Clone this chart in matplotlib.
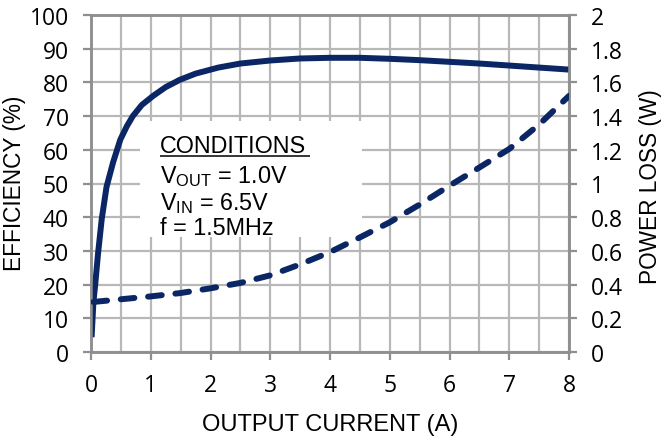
import matplotlib
matplotlib.use("Agg")
import matplotlib.pyplot as plt
import numpy as np

# Data
eff_current = [0.01, 0.04, 0.07, 0.12, 0.18, 0.26, 0.37, 0.49, 0.60, 0.70, 0.85, 1.04, 1.25,
               1.49, 1.75, 2.13, 2.5, 3.0, 3.5, 4.0, 4.5, 5.0, 5.5, 6.0, 6.5, 7.0, 7.5, 8.0]
efficiency = [4.4, 14.7, 20.0, 29.6, 39.5, 49.0, 56.3, 63.0, 67.0, 70.0, 73.3, 76.0, 78.6,
              80.8, 82.6, 84.4, 85.6, 86.5, 87.1, 87.3, 87.3, 87.0, 86.6, 86.1, 85.6, 85.0, 84.4, 83.8]

loss_current = [0.04, 0.5, 1.0, 1.5, 2.0, 2.5, 3.0, 3.5, 4.0, 4.5, 5.0, 5.5, 6.0, 6.5, 7.0, 7.5, 8.0]
power_loss = [0.297, 0.313, 0.33, 0.35, 0.378, 0.41, 0.455, 0.52, 0.593, 0.68, 0.77, 0.875,
              0.987, 1.095, 1.205, 1.35, 1.52]

x_ticks = [0, 1, 2, 3, 4, 5, 6, 7, 8]
eff_ticks = [0, 10, 20, 30, 40, 50, 60, 70, 80, 90, 100]
loss_ticks = [0, 0.2, 0.4, 0.6, 0.8, 1.0, 1.2, 1.4, 1.6, 1.8, 2.0]
loss_tick_labels = ["0", "0.2", "0.4", "0.6", "0.8", "1", "1.2", "1.4", "1.6", "1.8", "2"]

navy = "#0b2665"
grid_c = "#b8b8b8"
spine_c = "#8f8f8f"
tick_font = "Open Sans"
text_font = "Liberation Sans"

W, H = 661, 439
fig = plt.figure(figsize=(W / 100, H / 100), dpi=100)
ax = fig.add_axes([91 / W, 1 - 353 / H, (569 - 91) / W, (353 - 16) / H])
ax2 = ax.twinx()

ax.set_xlim(0, 8)
ax.set_ylim(0, 100)
ax2.set_ylim(0, 2)

ax.set_xticks(x_ticks)
ax.set_xticks(np.arange(0, 8.01, 0.5), minor=True)
ax.set_yticks(eff_ticks)
ax2.set_yticks(loss_ticks)
ax2.set_yticklabels(loss_tick_labels)

ax.grid(True, which="both", axis="x", color=grid_c, linewidth=1.6)
ax.grid(True, which="major", axis="y", color=grid_c, linewidth=1.6)
ax.set_axisbelow(True)

for a in (ax, ax2):
    for s in a.spines.values():
        s.set_color(spine_c)
        s.set_linewidth(1.8)
    a.tick_params(which="major", length=6, width=1.6, color=spine_c, labelsize=16.5)
    for lab in a.get_xticklabels() + a.get_yticklabels():
        lab.set_fontfamily(tick_font)
ax.tick_params(axis="x", which="minor", length=0)
ax.tick_params(axis="x", pad=9)
ax.tick_params(axis="y", pad=10)
ax2.tick_params(axis="y", pad=10)

# Conditions box (white background covering grid)
box = plt.Rectangle((0.82, 34.1), 3.715, 34.4, facecolor="white", edgecolor="none", zorder=1.5)
ax.add_patch(box)
fs = 16.8
ax.text(1.155, 59.3, "CONDITIONS", fontsize=fs, family=text_font, va="baseline", ha="left", zorder=3)
ax.plot([1.155, 3.665], [58.1, 58.1], color="black", lw=1.1, zorder=3, solid_capstyle="butt")
ax.text(1.155, 50.4, r"V$_{\mathregular{OUT}}$ = 1.0V", fontsize=fs, family=text_font, va="baseline", ha="left", zorder=3)
ax.text(1.155, 42.4, r"V$_{\mathregular{IN}}$ = 6.5V", fontsize=fs, family=text_font, va="baseline", ha="left", zorder=3)
ax.text(1.155, 35.0, "f = 1.5MHz", fontsize=fs, family=text_font, va="baseline", ha="left", zorder=3)

ax.plot(eff_current, efficiency, color=navy, lw=4.3, zorder=4, solid_capstyle="butt", solid_joinstyle="round")
ax2.plot(loss_current, power_loss, color=navy, lw=4.3, ls=(0, (2.3, 2.3)), zorder=4, dash_capstyle="round")

fig.text(330 / W, 1 - 431 / H, "OUTPUT CURRENT (A)", fontsize=17, family=text_font, ha="center", va="baseline")
fig.text(15 / W, 1 - 183 / H, "EFFICIENCY (%)", fontsize=16.3, family=text_font, rotation=90, ha="center", va="center")
fig.text(651 / W, 1 - 187 / H, "POWER LOSS (W)", fontsize=16.3, family=text_font, rotation=90, ha="center", va="center")

fig.savefig("out.png", dpi=100)
